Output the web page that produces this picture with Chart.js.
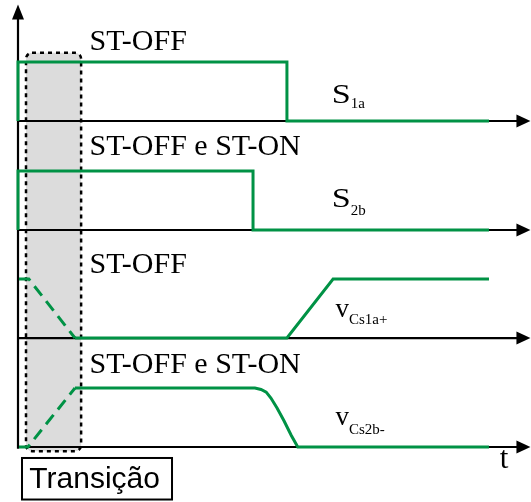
<!DOCTYPE html>
<html><head><meta charset="utf-8">
<script src="https://cdn.jsdelivr.net/npm/chart.js@4/dist/chart.umd.min.js"></script>
<style>html,body{margin:0;padding:0;background:#fff;overflow:hidden}</style>
</head><body>
<canvas id="c" width="531" height="502" style="width:531px;height:502px;display:block"></canvas>
<script>
// ---- data (time in arbitrary units, levels normalised 0..1) ----
const s1aTime   = [0, 0, 57.1, 57.1, 100];
const s1aLevel  = [0, 1, 1, 0, 0];
const s2bTime   = [0, 0, 49.9, 49.9, 100];
const s2bLevel  = [0, 1, 1, 0, 0];
const vcs1aTime  = [0.2, 2.3, 12.1, 57.1, 66.9, 100];
const vcs1aLevel = [1, 1, 0, 0, 1, 1];
const vcs2bTime  = [0.2, 2.1, 12.1, 50.3, 51.6, 52.7, 53.7, 55.0, 56.5, 58.0, 59.4, 100];
const vcs2bLevel = [0, 0, 1, 1, 0.975, 0.93, 0.83, 0.66, 0.44, 0.20, 0, 0];
const transitionEnd = 12.1;          // end of the dashed (transition) part
const transitionWindow = [1.7, 13.4];
const rowLabels = ['ST-OFF', 'ST-OFF e ST-ON', 'ST-OFF', 'ST-OFF e ST-ON'];
const signalNames = [['S', '1a'], ['S', '2b'], ['v', 'Cs1a+'], ['v', 'Cs2b-']];
const axisLabel = 't';
const boxLabel = 'Transição';

// ---- layout ----
const ROW_OFFSET = [5.525, 3.678, 1.847, 0];
const GREEN = 'rgb(0,146,69)';
const SERIF = '"Liberation Serif", "DejaVu Serif", serif';
const SANS = '"Liberation Sans", Arial, sans-serif';

function series(time, level, row) {
  return time.map((t, i) => ({x: t, y: level[i] + ROW_OFFSET[row]}));
}
const dashedSeg = {
  borderDash: ctx => (ctx.p1.parsed.x <= transitionEnd + 1e-6 ? [12, 7] : undefined)
};

const datasets = [
  {data: series(s1aTime, s1aLevel, 0)},
  {data: series(s2bTime, s2bLevel, 1)},
  {data: series(vcs1aTime, vcs1aLevel, 2), segment: dashedSeg},
  {data: series(vcs2bTime, vcs2bLevel, 3), segment: dashedSeg}
].map(d => Object.assign({
  borderColor: GREEN, borderWidth: 3, pointRadius: 0, tension: 0,
  borderJoinStyle: 'miter', borderCapStyle: 'butt', fill: false, clip: false
}, d));

const decor = {
  id: 'decor',
  beforeDatasetsDraw(chart) {
    const ctx = chart.ctx, X = v => chart.scales.x.getPixelForValue(v), Y = v => chart.scales.y.getPixelForValue(v);
    ctx.save();
    // transition window fill
    const x0 = X(transitionWindow[0]), x1 = X(transitionWindow[1]);
    const y0 = Y(6.68), y1 = Y(-0.07);
    ctx.beginPath();
    ctx.roundRect(x0, y0, x1 - x0, y1 - y0, 6);
    ctx.fillStyle = '#dcdcdc';
    ctx.fill();
    // axes
    ctx.strokeStyle = '#000'; ctx.fillStyle = '#000'; ctx.lineWidth = 2.2;
    const ax = X(0), xEnd = X(108.8);
    ctx.beginPath(); ctx.moveTo(ax, Y(-0.03)); ctx.lineTo(ax, Y(7.3)); ctx.stroke();
    ctx.beginPath(); ctx.moveTo(ax, Y(7.5)); ctx.lineTo(ax - 6, Y(7.5) + 15); ctx.lineTo(ax + 6, Y(7.5) + 15); ctx.closePath(); ctx.fill();
    ROW_OFFSET.forEach(r => {
      const y = Y(r);
      ctx.beginPath(); ctx.moveTo(ax, y); ctx.lineTo(xEnd - 8, y); ctx.stroke();
      ctx.beginPath(); ctx.moveTo(xEnd, y); ctx.lineTo(xEnd - 14, y - 6.5); ctx.lineTo(xEnd - 14, y + 6.5); ctx.closePath(); ctx.fill();
    });
    // dotted border of transition window
    ctx.setLineDash([4, 4]); ctx.lineWidth = 2.5;
    ctx.beginPath(); ctx.roundRect(x0, y0, x1 - x0, y1 - y0, 6); ctx.stroke();
    ctx.restore();
  },
  afterDatasetsDraw(chart) {
    const ctx = chart.ctx, X = v => chart.scales.x.getPixelForValue(v), Y = v => chart.scales.y.getPixelForValue(v);
    ctx.save();
    ctx.fillStyle = '#000'; ctx.textBaseline = 'alphabetic'; ctx.textAlign = 'left';
    // row state labels
    const relBase = [1.204, 1.271, 1.102, 1.254];
    ctx.font = '30px ' + SERIF;
    rowLabels.forEach((s, i) => ctx.fillText(s, X(15.2), Y(ROW_OFFSET[i] + relBase[i])));
    // signal names with subscripts
    const nameBase = [0.306, 0.39, 0.356, 0.373];
    const subDrop = [5, 8, 7, 9];
    signalNames.forEach((n, i) => {
      const isS = n[0] === 'S';
      const x = X(isS ? 66.6 : 67.4), y = Y(ROW_OFFSET[i] + nameBase[i]);
      let w;
      if (isS) {
        ctx.font = '28px ' + SERIF;
        ctx.save(); ctx.translate(x, y); ctx.scale(1.22, 1); ctx.fillText(n[0], 0, 0); ctx.restore();
        w = ctx.measureText(n[0]).width * 1.22;
        ctx.font = '15px ' + SERIF;
      } else {
        ctx.font = '27px ' + SERIF;
        ctx.fillText(n[0], x, y);
        w = ctx.measureText(n[0]).width;
        ctx.font = '15px ' + SERIF;
      }
      ctx.fillText(n[1], x + w, y + subDrop[i]);
    });
    // time axis label
    ctx.font = '31px ' + SERIF;
    ctx.fillText(axisLabel, X(102.3), Y(-0.356));
    // Transição box
    const bx0 = X(0.85), bx1 = X(32.7), by0 = Y(-0.186), by1 = Y(-0.89);
    ctx.fillStyle = '#fff'; ctx.fillRect(bx0, by0, bx1 - bx0, by1 - by0);
    ctx.strokeStyle = '#000'; ctx.lineWidth = 2; ctx.strokeRect(bx0, by0, bx1 - bx0, by1 - by0);
    ctx.fillStyle = '#000'; ctx.font = '30px ' + SANS;
    ctx.fillText(boxLabel, X(2.4), Y(-0.7));
    ctx.restore();
  }
};

new Chart(document.getElementById('c'), {
  type: 'line',
  data: {datasets},
  options: {
    responsive: false, animation: false, devicePixelRatio: 1, events: [],
    layout: {padding: 0},
    plugins: {legend: {display: false}, tooltip: {enabled: false}},
    scales: {
      x: {type: 'linear', min: -3.822, max: 108.92, display: false},
      y: {type: 'linear', min: -0.932, max: 7.576, display: false}
    }
  },
  plugins: [decor]
});
</script>
</body></html>
